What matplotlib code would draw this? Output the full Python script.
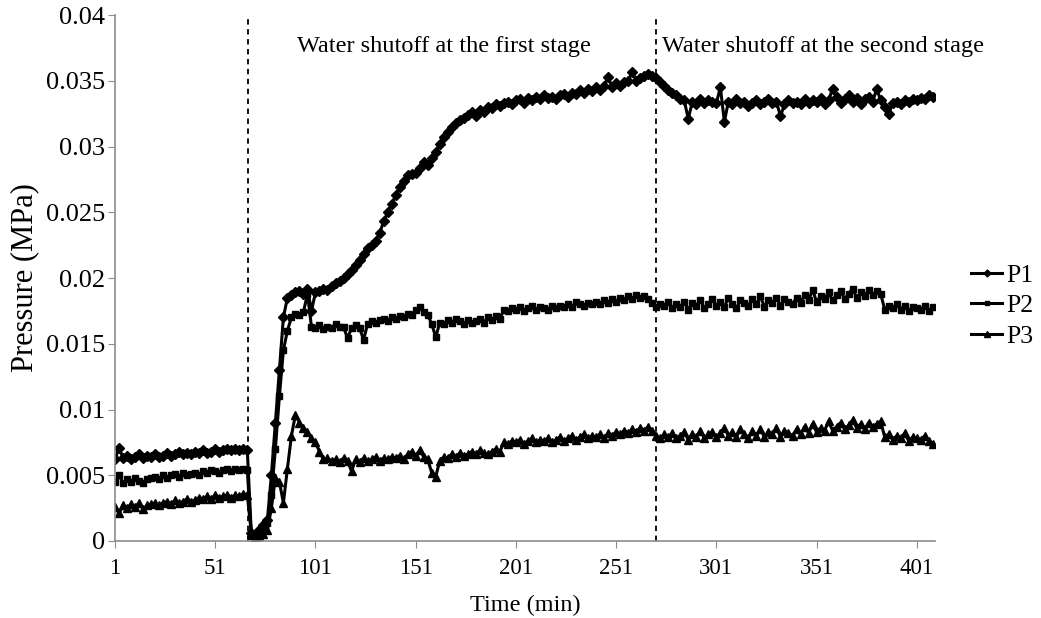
import numpy as np
import matplotlib
matplotlib.use("Agg")
import matplotlib.pyplot as plt
from matplotlib.ticker import FuncFormatter

# --- DATA (pressure in kPa, every 2 min) ---
TIME = list(range(1, 410, 2))

P1_KPA = [
    6.2, 7.1, 6.3, 6.5, 6.2, 6.4, 6.6, 6.3, 6.5, 6.4,
    6.6, 6.4, 6.5, 6.7, 6.5, 6.6, 6.8, 6.6, 6.7, 6.6,
    6.8, 6.7, 6.9, 6.7, 6.8, 7.0, 6.8, 6.9, 7.0, 6.9,
    7.0, 6.9, 7.0, 6.9, 0.6, 0.3, 0.8, 1.2, 1.6, 5.0,
    9.0, 13.0, 17.0, 18.5, 18.7, 18.9, 19.0, 18.8, 19.2, 17.5,
    18.9, 19.0, 19.2, 19.1, 19.4, 19.6, 19.8, 20.0, 20.3, 20.6,
    21.0, 21.4, 21.8, 22.3, 22.5, 22.8, 23.4, 24.3, 25.0, 25.6,
    26.3, 26.9, 27.4, 27.8, 27.9, 28.0, 28.4, 28.8, 28.6, 29.1,
    29.6, 30.2, 30.7, 31.1, 31.5, 31.8, 32.0, 32.2, 32.4, 32.6,
    32.3, 32.8, 32.6, 33.0, 32.9, 33.2, 33.1, 33.3, 33.4, 33.2,
    33.5, 33.6, 33.3, 33.7, 33.5, 33.8, 33.6, 33.9, 33.7, 33.8,
    33.6, 33.9, 34.0, 33.8, 34.1, 34.0, 34.3, 34.1, 34.4, 34.2,
    34.5, 34.3, 34.6, 35.3, 34.5, 34.8, 34.6, 34.9, 35.0, 35.7,
    35.0, 35.2, 35.4, 35.5, 35.4, 35.2, 34.9, 34.6, 34.3, 34.1,
    33.9, 33.6, 33.5, 32.1, 33.4, 33.2, 33.6, 33.3, 33.5, 33.4,
    33.3, 34.5, 31.9, 33.4, 33.2, 33.6, 33.3, 33.4, 33.1, 33.3,
    33.5, 33.2, 33.4, 33.6, 33.3, 33.4, 32.3, 33.2, 33.5, 33.3,
    33.4, 33.2, 33.6, 33.3, 33.5, 33.4, 33.7, 33.2, 33.5, 34.4,
    33.8, 33.3, 33.6, 33.9, 33.4, 33.7, 33.2, 33.6, 33.8, 33.4,
    34.4, 33.5, 33.0, 32.5, 33.3, 33.4, 33.2, 33.5, 33.4, 33.6,
    33.5, 33.7, 33.6, 33.9, 33.8,
]

P2_KPA = [
    4.5, 5.0, 4.4, 4.7, 4.5, 4.8, 4.6, 4.4, 4.7, 4.8,
    4.9, 4.7, 5.0, 4.8, 5.0, 5.1, 4.9, 5.2, 5.0, 5.1,
    5.2, 5.0, 5.3, 5.2, 5.4, 5.3, 5.2, 5.4, 5.5, 5.3,
    5.5, 5.4, 5.5, 5.4, 0.4, 0.2, 0.5, 0.9, 1.4, 3.5,
    7.0, 11.0, 14.5, 16.0, 17.0, 17.3, 17.2, 17.4, 18.8, 16.3,
    16.2, 16.4, 16.1, 16.3, 16.2, 16.5, 16.3, 16.3, 15.4, 16.2,
    16.4, 16.2, 15.3, 16.5, 16.7, 16.6, 16.8, 16.9, 16.7, 17.0,
    16.9, 17.1, 17.0, 17.3, 17.2, 17.6, 17.8, 17.4, 17.2, 16.5,
    15.5, 16.6, 16.5, 16.8, 16.6, 16.9, 16.7, 16.5, 16.8, 16.6,
    16.7, 16.9, 16.6, 17.0, 16.8, 17.1, 16.9, 17.6, 17.5, 17.7,
    17.6, 17.8, 17.5, 17.7, 17.9, 17.6, 17.8, 17.7, 17.6, 17.9,
    17.7, 17.9, 17.8, 18.0, 17.8, 18.2, 18.0, 17.9, 18.1, 18.0,
    18.2, 18.0, 18.3, 18.1, 18.4, 18.2, 18.5, 18.3, 18.6, 18.4,
    18.7, 18.5, 18.6, 18.4, 18.1, 17.8, 18.0, 17.9, 18.2, 17.7,
    18.0, 17.8, 18.2, 17.6, 18.1, 17.9, 18.3, 17.7, 18.0, 18.4,
    17.9, 18.2, 17.8, 18.5, 18.0, 17.7, 18.3, 18.1, 17.9, 18.4,
    18.0, 18.6, 17.8, 18.3, 18.1, 18.5, 17.9, 18.4, 18.2, 18.0,
    18.5, 18.1, 18.7, 18.3, 19.1, 18.2, 18.6, 18.4, 18.9, 18.3,
    18.7, 19.0, 18.4, 18.8, 19.2, 18.5, 18.9, 18.6, 19.1, 18.7,
    19.0, 18.8, 17.6, 17.9, 17.7, 18.0, 17.6, 17.9, 17.5, 17.8,
    17.7, 17.6, 17.9, 17.5, 17.8,
]

P3_KPA = [
    2.6, 2.1, 2.7, 2.5, 2.8, 2.6, 2.9, 2.4, 2.7, 2.8,
    2.9, 2.7, 2.9, 3.0, 2.8, 3.1, 2.9, 3.0, 3.2, 3.0,
    3.1, 3.3, 3.2, 3.4, 3.2, 3.5, 3.3, 3.4, 3.5, 3.3,
    3.5, 3.4, 3.6, 3.5, 0.6, 0.3, 0.4, 0.5, 0.8, 2.5,
    4.8, 4.5, 2.9, 5.5, 8.0, 9.6, 9.0, 8.6, 8.3, 7.8,
    7.5, 6.8, 6.2, 6.3, 6.1, 6.2, 6.0, 6.3, 6.1, 5.3,
    6.2, 6.0, 6.3, 6.1, 6.2, 6.4, 6.1, 6.3, 6.2, 6.4,
    6.3, 6.5, 6.2, 6.6, 6.8, 6.5, 6.9, 6.4, 6.2, 5.2,
    4.9, 6.1, 6.4, 6.3, 6.6, 6.4, 6.7, 6.5, 6.6, 6.8,
    6.6, 6.9, 6.7, 6.6, 6.8, 7.0, 6.8, 7.5, 7.4, 7.6,
    7.5, 7.7, 7.4, 7.6, 7.8, 7.5, 7.7, 7.6, 7.8, 7.5,
    7.7, 7.9, 7.6, 7.8, 8.0, 7.7, 7.9, 8.1, 7.8, 8.0,
    7.9, 8.1, 7.8, 8.2, 8.0, 8.3, 8.1, 8.4, 8.2, 8.5,
    8.3, 8.6, 8.4, 8.7, 8.4, 8.0, 7.8, 8.1, 7.9, 8.2,
    7.8, 8.0, 8.3, 7.7, 8.1, 7.9, 8.4, 7.8, 8.1, 8.3,
    7.9, 8.2, 8.6, 8.0, 8.3, 7.9, 8.5, 8.1, 7.8, 8.4,
    8.0, 8.5, 7.9, 8.3, 8.1, 8.6, 7.9, 8.4, 8.2, 8.0,
    8.5, 8.1, 8.7, 8.2, 8.9, 8.3, 8.6, 8.4, 9.1, 8.4,
    8.7, 9.0, 8.5, 8.8, 9.2, 8.6, 8.9, 8.5, 9.0, 8.7,
    8.9, 9.1, 7.9, 8.1, 7.7, 8.0, 7.8, 8.2, 7.6, 7.9,
    7.8, 7.7, 8.0, 7.6, 7.4,
]

X_TICKS = [1, 51, 101, 151, 201, 251, 301, 351, 401]
Y_TICKS = [0, 0.005, 0.01, 0.015, 0.02, 0.025, 0.03, 0.035, 0.04]
STAGE_TIMES = [67.5, 271]
STAGE_LABELS = ["Water shutoff at the first stage", "Water shutoff at the second stage"]
LABEL_STARTS = [92, 274]

plt.rcParams["font.family"] = ["Liberation Serif", "DejaVu Serif"]

fig = plt.figure(figsize=(10.41, 6.18), dpi=100)
ax = fig.add_axes([0.1105, 0.1246, 0.7875, 0.8511])

t = np.array(TIME)
series = [("P1", P1_KPA, "D", 5), ("P2", P2_KPA, "s", 5), ("P3", P3_KPA, "^", 6)]
for name, vals, mk, ms in series:
    ax.plot(t, np.array(vals) / 1000.0, color="black", lw=2.2,
            marker=mk, markersize=ms, label=name)

for xs, x0, lab in zip(STAGE_TIMES, LABEL_STARTS, STAGE_LABELS):
    ax.axvline(xs, color="black", lw=1.3, ls=(0, (3, 2.5)))
    ax.text(x0, 0.0376, lab, fontsize=17.5, ha="left", va="center")

ax.set_xlim(1, 410)
ax.set_ylim(0, 0.04)
ax.set_xticks(X_TICKS)
ax.set_yticks(Y_TICKS)
ax.yaxis.set_major_formatter(FuncFormatter(lambda v, p: f"{v:g}"))

for s in ["top", "right"]:
    ax.spines[s].set_visible(False)
for s in ["left", "bottom"]:
    ax.spines[s].set_color("#8c8c8c")
    ax.spines[s].set_linewidth(1.2)
ax.tick_params(axis="both", colors="#8c8c8c", labelcolor="black",
               length=5, direction="out")
ax.tick_params(axis="x", labelsize=16.5, pad=7)
ax.tick_params(axis="y", labelsize=19, pad=2)

ax.set_xlabel("Time (min)", fontsize=17.5, labelpad=12)
ax.set_ylabel("Pressure (MPa)", fontsize=22, labelpad=5)

fig.legend(loc="center left", bbox_to_anchor=(0.933, 0.505), frameon=False,
           fontsize=18.5, handlelength=1.2, handletextpad=0.15, labelspacing=0.3,
           borderaxespad=0, borderpad=0, markerscale=0.7)

fig.savefig("out.png", dpi=100)
